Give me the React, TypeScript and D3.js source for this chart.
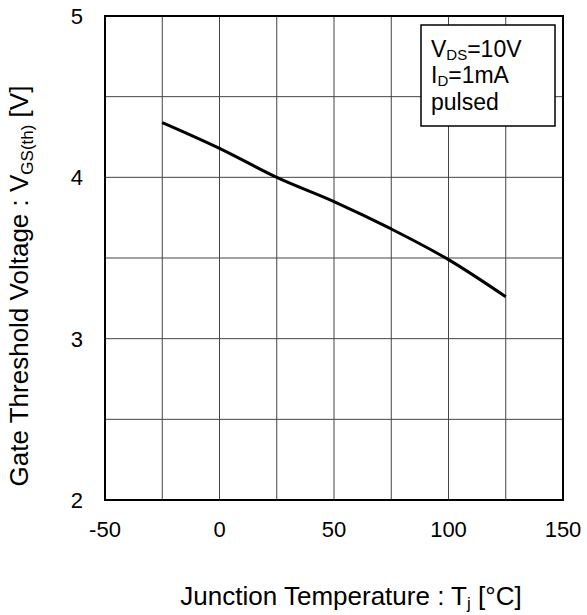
import { useRef, useEffect } from 'react';
import * as d3 from 'd3';

const temperatures = [-25, 0, 25, 50, 75, 100, 125];
const thresholdVoltage = [4.34, 4.18, 4.0, 3.85, 3.68, 3.49, 3.26];
const xTicks = [-50, 0, 50, 100, 150];
const yTicks = [2, 3, 4, 5];
const xGrid = d3.range(-50, 151, 25);
const yGrid = d3.range(2, 5.01, 0.5);

const FONT = 'Liberation Sans, Arial, sans-serif';

function drawChart(svgEl: SVGSVGElement) {
  const margin = { top: 16, left: 105 };
  const width = 563 - margin.left;
  const height = 500 - margin.top;

  const svg = d3.select(svgEl);
  svg.selectAll('*').remove();
  svg.attr('viewBox', '0 0 587 615');

  const x = d3.scaleLinear().domain([-50, 150]).range([0, width]);
  const y = d3.scaleLinear().domain([2, 5]).range([height, 0]);

  const g = svg.append('g').attr('transform', `translate(${margin.left},${margin.top})`);

  // grid
  g.selectAll('.vgrid')
    .data(xGrid)
    .enter()
    .append('line')
    .attr('x1', (d) => x(d))
    .attr('x2', (d) => x(d))
    .attr('y1', 0)
    .attr('y2', height)
    .attr('stroke', '#444')
    .attr('stroke-width', 1);

  g.selectAll('.hgrid')
    .data(yGrid)
    .enter()
    .append('line')
    .attr('x1', 0)
    .attr('x2', width)
    .attr('y1', (d) => y(d))
    .attr('y2', (d) => y(d))
    .attr('stroke', '#444')
    .attr('stroke-width', 1);

  // frame
  g.append('rect')
    .attr('width', width)
    .attr('height', height)
    .attr('fill', 'none')
    .attr('stroke', '#000')
    .attr('stroke-width', 2);

  // curve
  const line = d3
    .line<number>()
    .x((_, i) => x(temperatures[i]))
    .y((d) => y(d))
    .curve(d3.curveMonotoneX);

  g.append('path')
    .datum(thresholdVoltage)
    .attr('d', line)
    .attr('fill', 'none')
    .attr('stroke', '#000')
    .attr('stroke-width', 3);

  // tick labels
  g.selectAll('.xt')
    .data(xTicks)
    .enter()
    .append('text')
    .attr('x', (d) => x(d))
    .attr('y', height + 37)
    .attr('text-anchor', 'middle')
    .style('font-family', FONT)
    .style('font-size', '22px')
    .text((d) => d);

  g.selectAll('.yt')
    .data(yTicks)
    .enter()
    .append('text')
    .attr('x', -22)
    .attr('y', (d) => y(d) + 8)
    .attr('text-anchor', 'end')
    .style('font-family', FONT)
    .style('font-size', '22px')
    .text((d) => d);

  // axis titles
  const xt = svg
    .append('text')
    .attr('x', 351)
    .attr('y', 605)
    .attr('text-anchor', 'middle')
    .style('font-family', FONT)
    .style('font-size', '26px');
  xt.append('tspan').text('Junction Temperature : T');
  xt.append('tspan').attr('dy', 4).style('font-size', '17px').text('j');
  xt.append('tspan').attr('dy', -4).text(' [°C]');

  const yt = svg
    .append('text')
    .attr('transform', 'translate(28,286) rotate(-90)')
    .attr('text-anchor', 'middle')
    .style('font-family', FONT)
    .style('font-size', '26px');
  yt.append('tspan').text('Gate Threshold Voltage : V');
  yt.append('tspan').attr('dy', 5).style('font-size', '17px').text('GS(th)');
  yt.append('tspan').attr('dy', -5).text(' [V]');

  // condition box
  svg
    .append('rect')
    .attr('x', 421)
    .attr('y', 25)
    .attr('width', 134)
    .attr('height', 101)
    .attr('fill', '#fff')
    .attr('stroke', '#000')
    .attr('stroke-width', 1.5);

  const l1 = svg
    .append('text')
    .attr('x', 431)
    .attr('y', 57)
    .style('font-family', FONT)
    .style('font-size', '23px');
  l1.append('tspan').text('V');
  l1.append('tspan').attr('dy', 3).style('font-size', '15px').text('DS');
  l1.append('tspan').attr('dy', -3).text('=10V');

  const l2 = svg
    .append('text')
    .attr('x', 431)
    .attr('y', 83)
    .style('font-family', FONT)
    .style('font-size', '23px');
  l2.append('tspan').text('I');
  l2.append('tspan').attr('dy', 3).style('font-size', '15px').text('D');
  l2.append('tspan').attr('dy', -3).text('=1mA');

  svg
    .append('text')
    .attr('x', 431)
    .attr('y', 110)
    .style('font-family', FONT)
    .style('font-size', '23px')
    .text('pulsed');
}

export default function App() {
  const ref = useRef<SVGSVGElement>(null);

  useEffect(() => {
    if (!ref.current) return;
    drawChart(ref.current);
  }, []);

  return (
    <svg
      ref={ref}
      width={587}
      height={615}
      style={{ position: 'absolute', left: 0, top: 0, background: '#fff' }}
    />
  );
}
